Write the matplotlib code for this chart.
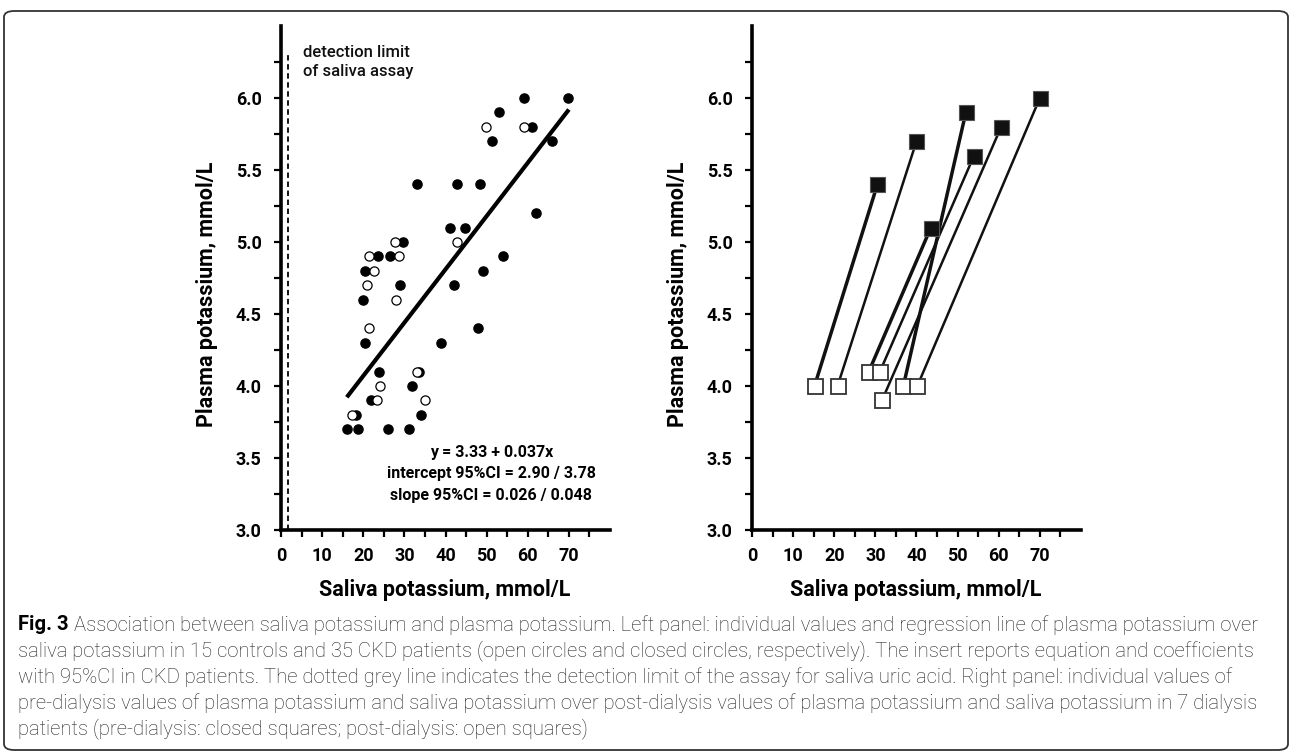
import numpy as np
import matplotlib.pyplot as plt
from matplotlib.patches import FancyBboxPatch
from matplotlib.ticker import FixedLocator

plt.rcParams['font.family'] = ['Roboto', 'DejaVu Sans']

W, H = 1292, 754

# left panel: controls (open) and CKD (closed)
ckd_saliva = [33.0, 29.7, 23.6, 26.5, 20.4, 29.0, 20.0, 20.4, 23.9, 31.8, 21.8, 18.2,
              34.1, 16.0, 18.8, 25.9, 31.1, 33.6, 38.9, 48.0, 51.3, 65.9, 42.9, 48.5,
              61.9, 41.0, 44.8, 53.9, 49.0, 42.1, 59.1, 69.7, 53.0, 61.0]
ckd_plasma = [5.4, 5.0, 4.9, 4.9, 4.8, 4.7, 4.6, 4.3, 4.1, 4.0, 3.9, 3.8,
              3.8, 3.7, 3.7, 3.7, 3.7, 4.1, 4.3, 4.4, 5.7, 5.7, 5.4, 5.4,
              5.2, 5.1, 5.1, 4.9, 4.8, 4.7, 6.0, 6.0, 5.9, 5.8]
ctrl_saliva = [27.6, 21.5, 28.6, 22.6, 20.9, 28.0, 21.5, 24.1, 33.0, 23.3, 35.0, 17.3,
               42.9, 49.9, 59.1]
ctrl_plasma = [5.0, 4.9, 4.9, 4.8, 4.7, 4.6, 4.4, 4.0, 4.1, 3.9, 3.9, 3.8,
               5.0, 5.8, 5.8]
intercept, slope = 3.33, 0.037
fit_x = np.array([16, 70])
detection_limit = 1.8

# right panel: pre-dialysis (closed) -> post-dialysis (open), one pair per patient
pre_saliva = [30.5, 40.0, 43.5, 54.0, 52.0, 60.6, 70.0]
pre_plasma = [5.4, 5.7, 5.1, 5.6, 5.9, 5.8, 6.0]
post_saliva = [15.2, 20.8, 28.4, 31.1, 36.8, 31.6, 40.2]
post_plasma = [4.0, 4.0, 4.1, 4.1, 4.0, 3.9, 4.0]
pair_lw = [2.5, 1.8, 2.5, 1.8, 2.5, 1.8, 1.8]

xlabel = "Saliva potassium, mmol/L"
ylabel = "Plasma potassium, mmol/L"

fig = plt.figure(figsize=(W / 100, H / 100), dpi=100)

# rounded frame round the whole figure
fig.patches.append(FancyBboxPatch((4 / W, 4 / H), 1 - 8 / W, 1 - 15 / H,
                                  boxstyle="round,pad=0,rounding_size=0.008",
                                  transform=fig.transFigure, fill=False,
                                  edgecolor='#333333', linewidth=1.3))


def make_axes(left_px):
    ax = fig.add_axes([left_px / W, (H - 530) / H, 329 / W, 504 / H])
    ax.set_xlim(0, 80)
    ax.set_ylim(3.0, 6.5)
    for s in ['top', 'right']:
        ax.spines[s].set_visible(False)
    for s in ['left', 'bottom']:
        ax.spines[s].set_linewidth(2.6)
    ax.set_xticks(range(0, 80, 10))
    ax.xaxis.set_minor_locator(FixedLocator(np.arange(5, 80, 10)))
    ax.set_yticks(np.arange(3.0, 6.01, 0.5))
    ax.yaxis.set_minor_locator(FixedLocator(np.arange(3.25, 6.3, 0.5)))
    ax.set_yticklabels([f"{v:.1f}" for v in np.arange(3.0, 6.01, 0.5)])
    ax.tick_params(which='both', direction='out', length=5, width=1.6)
    ax.tick_params(axis='y', labelsize=13, pad=9)
    ax.tick_params(axis='x', labelsize=13, pad=7)
    for lab in ax.get_xticklabels() + ax.get_yticklabels():
        lab.set_fontweight('bold')
    # axis titles placed in figure pixels
    fig.text((left_px - 74) / W, (H - 294) / H, ylabel, rotation=90, ha='center',
             va='center', fontsize=15.5, fontweight='bold')
    fig.text((left_px + 164) / W, (H - 590) / H, xlabel, ha='center', va='center',
             fontsize=15.5, fontweight='bold')
    return ax


# left panel
ax1 = make_axes(281)
ax1.axvline(detection_limit, ymin=0, ymax=0.945, color='black', lw=1.3, ls=(0, (3, 2)))
ax1.plot(fit_x, intercept + slope * fit_x, color='black', lw=3, solid_capstyle='butt')
ax1.plot(ckd_saliva, ckd_plasma, 'o', ms=6.6, color='black', mec='black')
ax1.plot(ctrl_saliva, ctrl_plasma, 'o', ms=6.6, mfc='white', mec='black', mew=0.9)
ax1.text(5.3, 6.25, "detection limit\nof saliva assay", fontsize=12, va='center',
         linespacing=1.4, color='#111111', fontweight='medium')
ax1.text(51.1, 3.39, f"y = {intercept:.2f} + {slope:.3f}x\n"
         "intercept 95%CI = 2.90 / 3.78\nslope 95%CI = 0.026 / 0.048",
         ha='center', va='center', fontsize=11.5, fontweight='bold', linespacing=1.55)

# right panel
ax2 = make_axes(752)
for xs, ys, xe, ye, lw in zip(pre_saliva, pre_plasma, post_saliva, post_plasma, pair_lw):
    ax2.plot([xs, xe], [ys, ye], color='#111111', lw=lw, zorder=2)
ax2.plot(pre_saliva, pre_plasma, 's', ms=10.8, color='#111111', mec='#555555',
         mew=0.8, zorder=3)
ax2.plot(post_saliva, post_plasma, 's', ms=10.8, mfc='white', mec='#333333',
         mew=1.3, zorder=3)

# caption
cap_y = [625, 651, 677, 703, 729]
cap_lines = [
    "Association between saliva potassium and plasma potassium. Left panel: individual values and regression line of plasma potassium over",
    "saliva potassium in 15 controls and 35 CKD patients (open circles and closed circles, respectively). The insert reports equation and coefficients",
    "with 95%CI in CKD patients. The dotted grey line indicates the detection limit of the assay for saliva uric acid. Right panel: individual values of",
    "pre-dialysis values of plasma potassium and saliva potassium over post-dialysis values of plasma potassium and saliva potassium in 7 dialysis",
    "patients (pre-dialysis: closed squares; post-dialysis: open squares)",
]
renderer = fig.canvas.get_renderer()
fs = 13
head = fig.text(18 / W, (H - cap_y[0]) / H, "Fig. 3", fontsize=fs, fontweight='bold',
                va='center')
head_w = head.get_window_extent(renderer).width
probe = fig.text(0, 0, cap_lines[0], fontsize=fs, fontweight='light')
line_w = probe.get_window_extent(renderer).width
probe.remove()
fs = fs * (1245 - 18 - head_w - 5) / line_w
head.set_fontsize(fs)
head_w = head.get_window_extent(renderer).width
for i, (yy, txt) in enumerate(zip(cap_y, cap_lines)):
    x0 = 18 + (head_w + 5 if i == 0 else 0)
    fig.text(x0 / W, (H - yy) / H, txt, fontsize=fs, va='center', color='#222222',
             fontweight='light')

plt.savefig("out.png", dpi=100)
plt.close()
